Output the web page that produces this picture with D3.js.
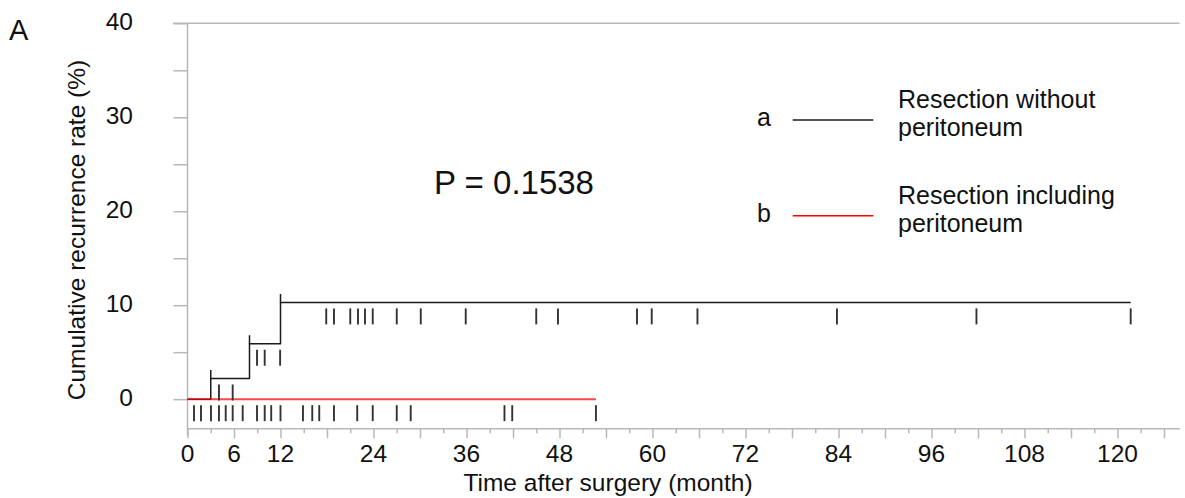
<!DOCTYPE html>
<html>
<head>
<meta charset="utf-8">
<script src="https://cdn.jsdelivr.net/npm/d3@7"></script>
<style>
  body { margin: 0; background: #fff; }
  text { font-family: "Liberation Sans", Arial, sans-serif; fill: #111; }
</style>
</head>
<body>
<div id="chart"></div>
<script>
/* Group a: resection without peritoneum (event times in months, cumulative rate after each) */
const eventTimesA = [3, 8, 12]
const eventLevelsA = [2.2, 5.9, 10.3]
const lastTimeA = 121.7
const censorA = [4.06, 5.83, 8.97, 9.96, 11.95, 17.9, 18.9, 21.0, 22.0, 22.9, 23.9, 27.0, 30.1, 35.9,
  45.0, 47.8, 58.0, 59.9, 65.8, 83.8, 101.8, 121.7]

/* Group b: resection including peritoneum (no events) */
const lastTimeB = 52.7
const censorB = [0.84, 1.74, 3.03, 4.06, 4.93, 5.83, 7.12, 8.97, 9.96, 10.8, 12.0, 14.9, 16.1, 17.0,
  18.9, 21.9, 23.9, 27.0, 28.8, 40.9, 41.9, 52.7]

const xTicks = [0, 6, 12, 24, 36, 48, 60, 72, 84, 96, 108, 120]
const yTicks = [0, 10, 20, 30, 40]
const legendKeys = ['a', 'b']
const legendNames = [['Resection without', 'peritoneum'], ['Resection including', 'peritoneum']]
const pText = 'P = 0.1538'

const x = d3.scaleLinear().domain([0, 128]).range([187.5, 1179.5])
const y = d3.scaleLinear().domain([-3.1, 40]).range([428.3, 23.3])

const svg = d3.select('#chart').append('svg')
  .attr('width', 1185)
  .attr('height', 498)

const axisColor = '#b8b8b8'

/* Top border */
svg.append('line')
  .attr('x1', 173).attr('x2', x.range()[1])
  .attr('y1', y(40)).attr('y2', y(40))
  .attr('stroke', axisColor).attr('stroke-width', 1.5)

/* Y axis */
const yAxis = svg.append('g').attr('transform', 'translate(' + x(0) + ',0)')
yAxis.call(d3.axisLeft(y).tickValues(d3.range(0, 41, 5)).tickSize(14).tickFormat(''))
yAxis.select('.domain').attr('d', 'M0,' + y(40) + 'V' + (y.range()[0] + 7))
yAxis.selectAll('path, line').attr('stroke', axisColor).attr('stroke-width', 1.5)

svg.append('g').selectAll('text').data(yTicks).join('text')
  .attr('x', 133)
  .attr('y', d => y(d) + 7)
  .attr('text-anchor', 'end')
  .attr('font-size', 24.5)
  .text(d => d)

/* X axis */
const xAxis = svg.append('g').attr('transform', 'translate(0,' + y.range()[0] + ')')
xAxis.call(d3.axisBottom(x).tickValues(d3.range(0, 127, 3)).tickSizeOuter(0).tickFormat(''))
xAxis.selectAll('.tick line').attr('y2', d => d % 6 === 0 ? 10 : 5)
xAxis.selectAll('path, line').attr('stroke', axisColor).attr('stroke-width', 1.5)

svg.append('g').selectAll('text').data(xTicks).join('text')
  .attr('x', d => x(d))
  .attr('y', 462)
  .attr('text-anchor', 'middle')
  .attr('font-size', 24.5)
  .text(d => d)

/* Axis titles */
svg.append('text')
  .attr('transform', 'translate(85,230) rotate(-90)')
  .attr('text-anchor', 'middle')
  .attr('font-size', 24.5)
  .text('Cumulative recurrence rate (%)')

svg.append('text')
  .attr('x', 608)
  .attr('y', 491)
  .attr('text-anchor', 'middle')
  .attr('font-size', 24.5)
  .text('Time after surgery (month)')

svg.append('text')
  .attr('x', 9).attr('y', 39.5)
  .attr('font-size', 29)
  .text('A')

/* Step function for group a */
function levelAt(t) {
  let l = 0
  eventTimesA.forEach((e, i) => { if (t >= e) l = eventLevelsA[i] })
  return l
}
const stepsA = [[0, 0]]
eventTimesA.forEach((t, i) => stepsA.push([t, eventLevelsA[i]]))
stepsA.push([lastTimeA, eventLevelsA[eventLevelsA.length - 1]])

const line = d3.line().x(d => x(d[0])).y(d => y(d[1])).curve(d3.curveStepAfter)

svg.append('path')
  .attr('d', line(stepsA))
  .attr('fill', 'none')
  .attr('stroke', '#1a1a1a')
  .attr('stroke-width', 1.5)

/* Event marks poke above the step */
svg.append('g').selectAll('line').data(eventTimesA).join('line')
  .attr('x1', d => x(d)).attr('x2', d => x(d))
  .attr('y1', (d, i) => y(eventLevelsA[i]) - 8.5)
  .attr('y2', (d, i) => y(eventLevelsA[i]))
  .attr('stroke', '#1a1a1a')
  .attr('stroke-width', 1.5)

/* Group b line */
svg.append('path')
  .attr('d', line([[0, 0], [lastTimeB, 0]]))
  .attr('fill', 'none')
  .attr('stroke', '#ff0000')
  .attr('stroke-opacity', 0.72)
  .attr('stroke-width', 2)

/* Censor marks, hung just under the curve */
const censors = censorA.map(t => [t, levelAt(t)]).concat(censorB.map(t => [t, 0]))
svg.append('g').selectAll('line').data(censors).join('line')
  .attr('x1', d => x(d[0])).attr('x2', d => x(d[0]))
  .attr('y1', d => y(d[1]) + 6)
  .attr('y2', d => y(d[1]) + 22)
  .attr('stroke', '#333')
  .attr('stroke-width', 1.9)

/* P value */
svg.append('text')
  .attr('x', 434).attr('y', 194)
  .attr('font-size', 33)
  .text(pText)

/* Legend */
const legendY = [120, 215.7]
const legendColors = ['#1a1a1a', '#ff0000']
const legend = svg.append('g').selectAll('g').data(legendKeys).join('g')
  .attr('transform', (d, i) => 'translate(0,' + legendY[i] + ')')
legend.append('text')
  .attr('x', 757).attr('y', 6)
  .attr('font-size', 25)
  .text(d => d)
legend.append('line')
  .attr('x1', 792.7).attr('x2', 873.3)
  .attr('stroke', (d, i) => legendColors[i])
  .attr('stroke-width', 1.5)
legend.append('text')
  .attr('x', 898)
  .attr('font-size', 25)
  .selectAll('tspan').data((d, i) => legendNames[i]).join('tspan')
  .attr('x', 898)
  .attr('y', (d, j) => j === 0 ? -11.7 : 16.3)
  .text(d => d)
</script>
</body>
</html>
